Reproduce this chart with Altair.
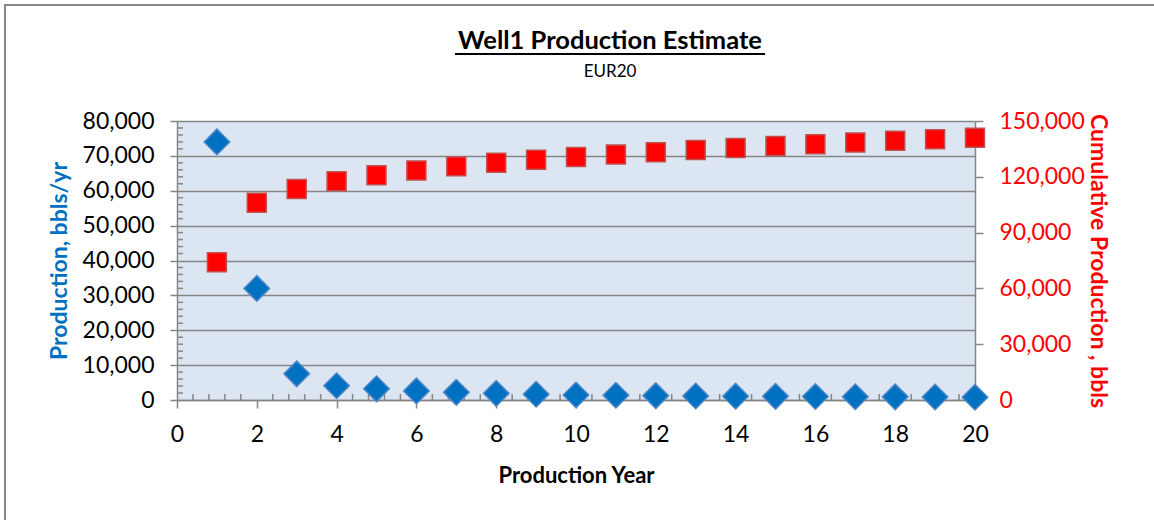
import altair as alt
import pandas as pd

# ---- data ----
years = list(range(1, 21))
production = [74000, 32000, 7500, 4100, 3200, 2600, 2200, 1900, 1650, 1450,
              1350, 1250, 1150, 1100, 1050, 1000, 950, 900, 850, 800]
cumulative = [74000, 106000, 113500, 117600, 120800, 123400, 125600, 127500, 129150, 130600,
              131950, 133200, 134350, 135450, 136500, 137500, 138450, 139350, 140200, 141000]

x_ticks = [0, 2, 4, 6, 8, 10, 12, 14, 16, 18, 20]
x_minor = [round(i * 0.4, 1) for i in range(1, 50) if i % 5 != 0]
left_ticks = [0, 10000, 20000, 30000, 40000, 50000, 60000, 70000, 80000]
left_minor = [v for v in range(2000, 80000, 2000) if v % 10000 != 0]
right_ticks = [0, 30000, 60000, 90000, 120000, 150000]

title_text = "Well1 Production Estimate"
subtitle_text = "EUR20"

FONT = "Lato"
GRID = "#868686"
W, H = 798, 279

df = pd.DataFrame({"year": years, "prod": production, "cum": cumulative})

x_enc = alt.X(
    "year:Q",
    scale=alt.Scale(domain=[0, 20], nice=False, zero=True),
    axis=alt.Axis(values=x_ticks, title="Production Year", format="d",
                  labelFontSize=23, labelPadding=15, tickSize=8, labelFlush=False,
                  titleFontSize=22, titleFontWeight="bold", titlePadding=19,
                  titleColor="black", grid=False),
)

blue = alt.Chart(df).mark_point(
    shape="diamond", filled=True, size=650, fill="#0070C0",
    stroke="#4A86C8", strokeWidth=1.5, opacity=1,
).encode(
    x=x_enc,
    y=alt.Y("prod:Q", scale=alt.Scale(domain=[0, 80000], nice=False),
            axis=alt.Axis(orient="left", values=left_ticks, format=",d",
                          title="Production, bbls/yr", titleColor="#0070C0",
                          titleFontSize=23, titleFontWeight="bold", titlePadding=11,
                          labelFontSize=23, labelColor="black", labelPadding=16,
                          labelFlush=False,
                          tickSize=7, grid=True, gridColor=GRID, gridWidth=1.5)),
)

red = alt.Chart(df).mark_point(
    shape="square", filled=True, size=360, fill="#FF0000",
    stroke="#C0504D", strokeWidth=1.5, opacity=1,
).encode(
    x=alt.X("year:Q"),
    y=alt.Y("cum:Q", scale=alt.Scale(domain=[0, 150000], nice=False),
            axis=alt.Axis(orient="right", values=right_ticks, format=",d",
                          title="Cumulative Production , bbls", titleColor="#FF0000",
                          titleFontSize=23, titleFontWeight="bold", titlePadding=1,
                          labelFontSize=23, labelColor="#FF0000", labelPadding=16,
                          labelFlush=False,
                          tickSize=8, grid=False)),
)

minor_left = alt.Chart(pd.DataFrame({"v": left_minor})).mark_rule(
    color=GRID, strokeWidth=1.5
).encode(
    y=alt.Y("v:Q", scale=alt.Scale(domain=[0, 80000], nice=False), axis=None),
    x=alt.value(0), x2=alt.value(6),
)

minor_x = alt.Chart(pd.DataFrame({"v": x_minor})).mark_rule(
    color=GRID, strokeWidth=1.5
).encode(
    x=alt.X("v:Q"),
    y=alt.value(H), y2=alt.value(H - 6),
)

title = alt.Chart(pd.DataFrame({"t": [title_text]})).mark_text(
    font=FONT, fontSize=25.5, fontWeight="bold", color="black", align="center", baseline="middle"
).encode(text="t:N", x=alt.value(433), y=alt.value(-80))

underline = alt.Chart(pd.DataFrame({"t": [title_text]})).mark_rule(
    color="black", strokeWidth=1.8
).encode(x=alt.value(278), x2=alt.value(588), y=alt.value(-67))

subtitle = alt.Chart(pd.DataFrame({"t": [subtitle_text]})).mark_text(
    font=FONT, fontSize=17, color="black", align="center", baseline="middle"
).encode(text="t:N", x=alt.value(433), y=alt.value(-49))

border_top = alt.Chart(pd.DataFrame({"t": ["b"]})).mark_rule(
    color="#878787", strokeWidth=2
).encode(x=alt.value(-173), x2=alt.value(1000), y=alt.value(-116))

border_left = alt.Chart(pd.DataFrame({"t": ["b"]})).mark_rule(
    color="#878787", strokeWidth=2
).encode(x=alt.value(-172), y=alt.value(-117), y2=alt.value(420))

chart = alt.layer(
    minor_left, minor_x, red, blue, title, underline, subtitle, border_top, border_left
).resolve_scale(y="independent").properties(
    width=W, height=H,
    autosize=alt.AutoSizeParams(type="none"),
    padding={"left": 177, "top": 121, "right": 179, "bottom": 120},
    background="white",
).configure_view(
    fill="#DCE6F2", stroke=None
).configure_axis(
    labelFont=FONT, titleFont=FONT, domainColor=GRID, tickColor=GRID,
    domainWidth=1.5, tickWidth=1.5, labelColor="black",
)

chart.save("out.html", embed_options={"renderer": "svg", "actions": False})
